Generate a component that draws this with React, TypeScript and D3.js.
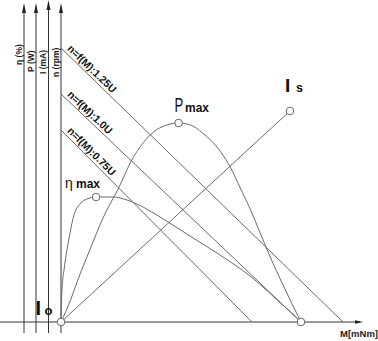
import React from "react";
import * as d3 from "d3";

// Power curve P = f(M)
const P_TORQUE = [0, 4, 7, 12, 17.5, 24, 29.5, 36, 41, 49, 54, 59, 65, 70.5, 74.5, 79, 83, 87, 92.5, 100];
const P_VALUE = [0, 11, 21, 36, 52, 67, 81, 92, 97, 99.5, 98.5, 94.5, 87.5, 77.5, 67.5, 56, 44.5, 33, 18.5, 0];
// Efficiency curve eta = f(M)
const ETA_TORQUE = [0, 0.2, 0.4, 1.25, 2.5, 3.75, 5.4, 7.9, 10.8, 14.6, 21.7, 27.5, 34.2, 41.25, 53.75, 66.25, 78.75, 89.2, 100];
const ETA_VALUE = [0, 11, 16, 26, 36, 44.5, 53.5, 59, 61.5, 62.5, 62.5, 61, 57.5, 52.5, 43, 33.5, 23, 12, 0];
// Current line I = f(M)
const I_TORQUE = [0, 95.4];
const I_VALUE = [0, 105.5];
// Speed lines n = f(M) at several voltages
const SPEED_LABELS = ["n=f(M):1.25U", "n=f(M):1.0U", "n=f(M):0.75U"];
const SPEED_NOLOAD = [137, 114, 96];
const SPEED_STALL_TORQUE = [117.5, 100, 79.6];
// Markers
const PMAX_POINT = [49, 99.5];
const ETAMAX_POINT = [14.6, 62.5];
const IS_POINT = [95.4, 105.5];
const ORIGIN_POINT = [0, 0];
const STALL_POINT = [100, 0];
// Axis labels
const AXIS_LABELS = ["η (%)", "P (W)", "I (mA)", "n (rpm)"];
const X_LABEL = "M[mNm]";

const W = 378;
const H = 341;
const AXIS_X = [24, 36, 48.5, 61];
const AXIS_TOPS = [3, 3, 0, 3];
const LABEL_BOTTOMS = [65, 72, 74, 77];

export default function App() {
  const x = d3.scaleLinear().domain([0, 100]).range([61, 301]);
  const y = d3.scaleLinear().domain([0, 100]).range([322, 122]);
  const curve = d3
    .line<number[]>()
    .x((d) => x(d[0]))
    .y((d) => y(d[1]))
    .curve(d3.curveMonotoneX);
  const straight = d3
    .line<number[]>()
    .x((d) => x(d[0]))
    .y((d) => y(d[1]));

  const pData = P_TORQUE.map((m, i) => [m, P_VALUE[i]]);
  const etaData = ETA_TORQUE.map((m, i) => [m, ETA_VALUE[i]]);
  const iData = I_TORQUE.map((m, i) => [m, I_VALUE[i]]);

  const lineColor = "#6a6a6a";
  const axisColor = "#333";
  const font = "Liberation Sans, Arial, sans-serif";

  const marker = (p: number[], key: string) => (
    <circle key={key} cx={x(p[0])} cy={y(p[1])} r={3.8} fill="#fff" stroke="#666" strokeWidth={1} />
  );

  return (
    <svg width={W} height={H} style={{ position: "absolute", left: 0, top: 0, background: "#fff" }} fontFamily={font}>
      {/* vertical axes */}
      {AXIS_X.map((ax, i) => (
        <g key={"ax" + i}>
          <line x1={ax} x2={ax} y1={333} y2={AXIS_TOPS[i] + 6} stroke={axisColor} strokeWidth={1} />
          <path d={`M${ax - 2},${AXIS_TOPS[i] + 10}L${ax},${AXIS_TOPS[i]}L${ax + 2},${AXIS_TOPS[i] + 10}Z`} fill="#222" />
          <text
            transform={`translate(${ax - 2.5},${LABEL_BOTTOMS[i]}) rotate(-90)`}
            fontSize={8.5}
            fontWeight="bold"
            fill="#222"
          >
            {AXIS_LABELS[i]}
          </text>
        </g>
      ))}
      {/* horizontal axis */}
      <line x1={0} x2={360} y1={322} y2={322} stroke={axisColor} strokeWidth={1} />
      <path d="M355,320.3L363,322L355,323.7Z" fill="#222" />
      <text x={340} y={337} fontSize={9.5} fontWeight="bold" fill="#222">
        {X_LABEL}
      </text>

      {/* speed lines */}
      {SPEED_LABELS.map((lab, i) => {
        const x0 = x(0);
        const y0 = y(SPEED_NOLOAD[i]);
        const x1 = x(SPEED_STALL_TORQUE[i]);
        const y1 = y(0);
        const ang = (Math.atan2(y1 - y0, x1 - x0) * 180) / Math.PI;
        return (
          <g key={"sp" + i}>
            <path d={straight([[0, SPEED_NOLOAD[i]], [SPEED_STALL_TORQUE[i], 0]]) || ""} stroke={lineColor} fill="none" strokeWidth={1} />
            <text transform={`translate(${x0},${y0}) rotate(${ang})`} x={5} y={-3} fontSize={10.5} fontWeight="bold" fill="#111">
              {lab}
            </text>
          </g>
        );
      })}

      {/* current line */}
      <path d={straight(iData) || ""} stroke={lineColor} fill="none" strokeWidth={1} />
      {/* power curve */}
      <path d={curve(pData) || ""} stroke={lineColor} fill="none" strokeWidth={1} />
      {/* efficiency curve */}
      <path d={curve(etaData) || ""} stroke={lineColor} fill="none" strokeWidth={1} />

      {marker(PMAX_POINT, "pm")}
      {marker(ETAMAX_POINT, "em")}
      {marker(IS_POINT, "is")}
      {marker(ORIGIN_POINT, "o")}
      {marker(STALL_POINT, "st")}

      {/* labels */}
      <text transform="translate(174.5,112) scale(0.62,1)" fontSize={21} fill="#111">P</text>
      <text x={185} y={112} fontSize={12} fontWeight="bold" fill="#111">max</text>
      <text x={285} y={92} fontSize={19} fontWeight="bold" fill="#111">I</text>
      <text x={296} y={92} fontSize={12.5} fontWeight="bold" fill="#111">s</text>
      <text x={35.5} y={315} fontSize={20} fontWeight="bold" fill="#111">I</text>
      <text x={44.5} y={315} fontSize={13} fontWeight="bold" fill="#111">o</text>
      <text x={65} y={188} fontSize={14} fill="#111">η</text>
      <text x={76} y={188} fontSize={12} fontWeight="bold" fill="#111">max</text>
    </svg>
  );
}
